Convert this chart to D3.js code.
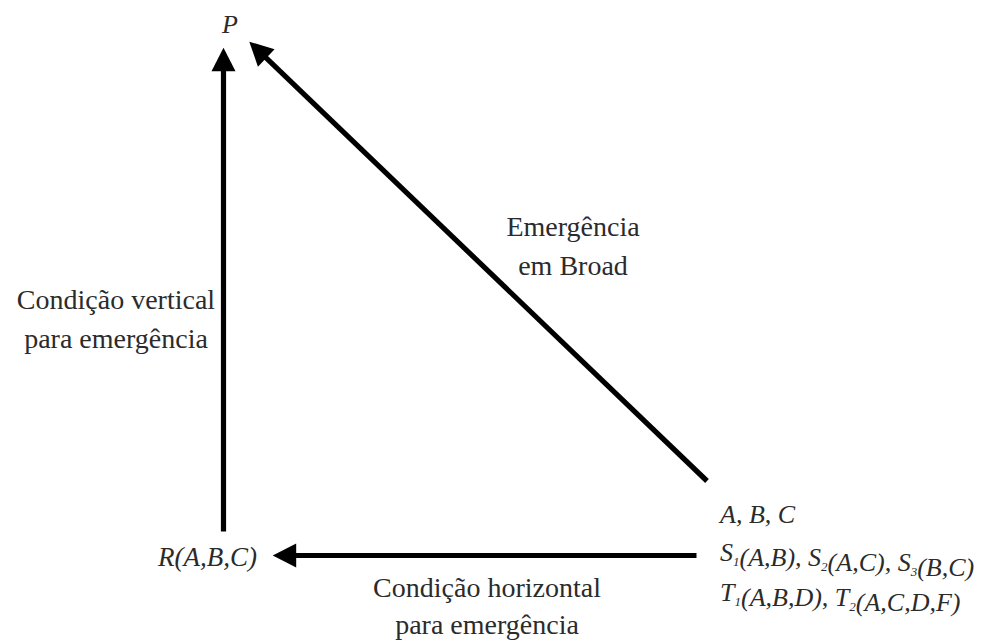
<!DOCTYPE html>
<html><head><meta charset="utf-8">
<script src="https://cdn.jsdelivr.net/npm/d3@7"></script>
<style>body{margin:0;background:#fff}svg{display:block}</style>
</head><body>
<script>
// ---- data ----
const nodes = ["P", "R(A,B,C)", "base"];
const baseLines = [
  [["A, B, C", null]],
  [["S", "1"], ["(A,B), ", null], ["S", "2"], ["(A,C), ", null], ["S", "3"], ["(B,C)", null]],
  [["T", "1"], ["(A,B,D), ", null], ["T", "2"], ["(A,C,D,F)", null]]
];
const edges = [
  {from: "R(A,B,C)", to: "P", label: ["Condição vertical", "para emergência"]},
  {from: "base", to: "P", label: ["Emergência", "em Broad"]},
  {from: "base", to: "R(A,B,C)", label: ["Condição horizontal", "para emergência"]}
];

// ---- layout ----
const W = 984, H = 642;
const svg = d3.select("body").append("svg").attr("width", W).attr("height", H);
const x = d3.scaleLinear().domain([0, 1]).range([0, W]);
const y = d3.scaleLinear().domain([0, 1]).range([0, H]);

const geom = [
  {s: [223.5, 531.5], t: [223.5, 47.7], lab: [116, 309, 348]},
  {s: [707, 481], t: [249.3, 41.7], lab: [573, 236, 275]},
  {s: [696.5, 555.5], t: [272.7, 555.5], lab: [487, 597, 634]}
];
const headLen = 23.5, headHalf = 12;
const serif = "'Liberation Serif', 'Times New Roman', serif";
const ink = "#000", txt = "#2b2b2b";

edges.forEach((e, i) => {
  const g = geom[i];
  const sx = x(g.s[0] / W), sy = y(g.s[1] / H), tx = x(g.t[0] / W), ty = y(g.t[1] / H);
  const dx = tx - sx, dy = ty - sy, L = Math.hypot(dx, dy);
  const ux = dx / L, uy = dy / L, px = -uy, py = ux;
  const bx = tx - ux * headLen, by = ty - uy * headLen;
  svg.append("line").attr("x1", sx).attr("y1", sy).attr("x2", bx + ux * 2).attr("y2", by + uy * 2)
    .attr("stroke", ink).attr("stroke-width", 5.2);
  svg.append("path")
    .attr("d", d3.line()([[tx, ty], [bx + px * headHalf, by + py * headHalf], [bx - px * headHalf, by - py * headHalf]]) + "Z")
    .attr("fill", ink);
  e.label.forEach((t, k) => {
    svg.append("text").attr("x", g.lab[0]).attr("y", g.lab[1 + k])
      .attr("text-anchor", "middle")
      .attr("font-family", serif).attr("font-size", 28).attr("fill", txt)
      .text(t);
  });
});

svg.append("text").attr("x", 230).attr("y", 33).attr("text-anchor", "middle")
  .attr("font-family", serif).attr("font-style", "italic").attr("font-size", 26).attr("fill", txt)
  .text(nodes[0]);
svg.append("text").attr("x", 207.5).attr("y", 566).attr("text-anchor", "middle")
  .attr("font-family", serif).attr("font-style", "italic").attr("font-size", 27).attr("fill", txt)
  .text(nodes[1]);

const baseY = [523, 561, 601];
baseLines.forEach((line, i) => {
  const t = svg.append("text").attr("x", 720).attr("y", baseY[i])
    .attr("font-family", serif).attr("font-style", "italic").attr("font-size", 26).attr("fill", txt);
  line.forEach(([s, sub]) => {
    t.append("tspan").text(s);
    if (sub) {
      t.append("tspan").attr("font-size", 13).attr("dy", 5).text(sub);
      t.append("tspan").attr("dy", -5).text("");
    }
  });
});
</script>
</body></html>
